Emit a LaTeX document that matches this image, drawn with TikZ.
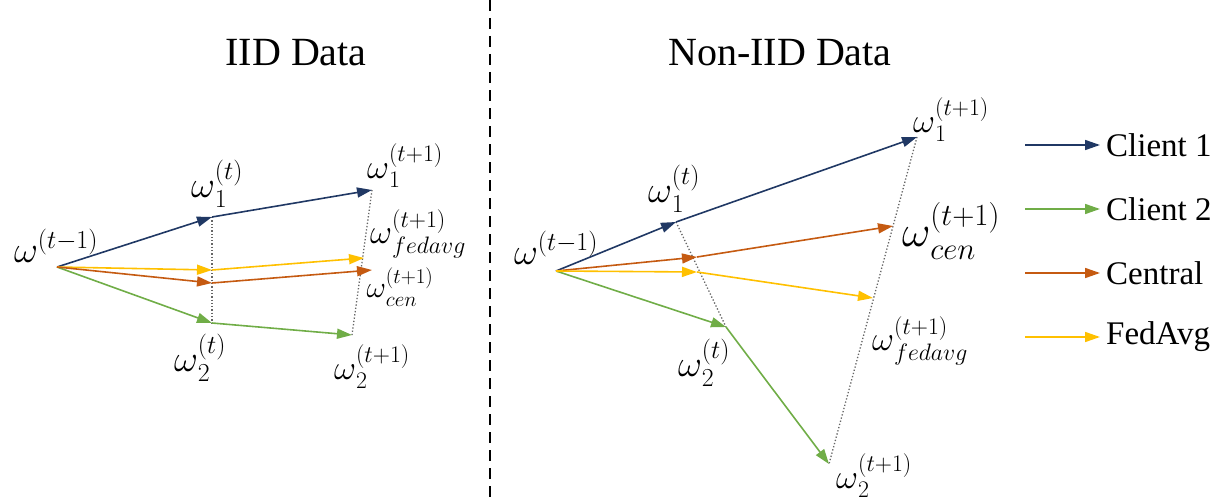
\RequirePackage{fix-cm}
\documentclass[tikz,border=0pt]{standalone}
\usepackage{fontspec}
\setmainfont{Liberation Serif}
\usetikzlibrary{arrows.meta}

\definecolor{navy}{HTML}{203864}
\definecolor{leaf}{HTML}{70AD47}
\definecolor{rust}{HTML}{C55A11}
\definecolor{amber}{HTML}{FFC000}

\newcommand{\wvec}[2]{{\omega\vphantom{\big|}}_{#1}^{#2}}

\begin{document}
\begin{tikzpicture}[x=1pt,y=-1pt]

                \tikzset{vec/.style = {line width=1.6pt,-{Triangle[length=15pt,width=10pt]}}}
                \tikzset{client1/.style = {vec,navy}}
                \tikzset{client2/.style = {vec,leaf}}
                \tikzset{central/.style = {vec,rust}}
                \tikzset{fedavg/.style = {vec,amber}}
                \tikzset{guide/.style = {gray!80!black,dotted,line width=1.3pt}}
                \tikzset{lbl/.style = {inner sep=0pt,font=\fontsize{34}{40}\selectfont}}
                \tikzset{big/.style = {font=\fontsize{37}{44}\selectfont}}
                \tikzset{title/.style = {font=\fontsize{40}{48}\selectfont}}
                \tikzset{key/.style = {anchor=west,inner sep=6pt,font=\fontsize{33}{40}\selectfont}}

                \useasboundingbox (0,0) rectangle (1229,503);

                % titles and divider
                \node[title] (tl) at (296, 53) {IID Data};
                \node[title] (tr) at (780, 53) {Non-IID Data};
                \coordinate (d0) at (490, 0);
                \coordinate (d1) at (490, 503);
                \draw[dash pattern=on 11pt off 7pt,line width=1.4pt] (d0) -- (d1);

                % IID
                \coordinate (o) at (57, 267);
                \coordinate (a1) at (212, 217);
                \coordinate (b1) at (372, 190);
                \coordinate (af) at (212, 270);
                \coordinate (bf) at (364, 258);
                \coordinate (ac) at (212, 283);
                \coordinate (bc) at (372, 270);
                \coordinate (a2) at (212, 323);
                \coordinate (b2) at (352, 335);

                \draw[guide] (a1) -- (a2);
                \draw[guide] (b1) -- (b2);

                \draw[client1] (o) -- (a1);
                \draw[client1] (a1) -- (b1);
                \draw[client2] (o) -- (a2);
                \draw[client2] (a2) -- (b2);
                \draw[fedavg] (o) -- (af);
                \draw[fedavg] (af) -- (bf);
                \draw[central] (o) -- (ac);
                \draw[central] (ac) -- (bc);

                \node[lbl,big] (lo) at (56, 246) {$\omega^{(t-1)}$};
                \node[lbl,big] (la1) at (217, 184) {$\wvec{1}{(t)}$};
                \node[lbl] (lb1) at (405, 166) {$\wvec{1}{(t+1)}$};
                \node[lbl] (lbf) at (418, 234) {$\wvec{fedavg}{(t+1)}$};
                \node[lbl,font=\fontsize{30}{36}\selectfont] (lbc) at (400, 287) {$\wvec{cen}{(t+1)}$};
                \node[lbl,big] (la2) at (200, 358) {$\wvec{2}{(t)}$};
                \node[lbl] (lb2) at (372, 367) {$\wvec{2}{(t+1)}$};

                % Non-IID
                \coordinate (p) at (556, 271);
                \coordinate (c1) at (676, 222);
                \coordinate (e1) at (917, 137);
                \coordinate (cc) at (697, 257);
                \coordinate (ec) at (893, 226);
                \coordinate (cf) at (697, 272);
                \coordinate (ef) at (873, 298);
                \coordinate (c2) at (726, 327);
                \coordinate (e2) at (829, 464);

                \draw[guide] (c1) -- (c2);
                \draw[guide] (e1) -- (e2);

                \draw[client1] (p) -- (c1);
                \draw[client1] (c1) -- (e1);
                \draw[client2] (p) -- (c2);
                \draw[client2] (c2) -- (e2);
                \draw[central] (p) -- (cc);
                \draw[central] (cc) -- (ec);
                \draw[fedavg] (p) -- (cf);
                \draw[fedavg] (cf) -- (ef);

                \node[lbl,big] (rp) at (556, 248) {$\omega^{(t-1)}$};
                \node[lbl,big] (rc1) at (674, 189) {$\wvec{1}{(t)}$};
                \node[lbl] (re1) at (951, 120) {$\wvec{1}{(t+1)}$};
                \node[lbl,font=\fontsize{44}{52}\selectfont] (rec) at (951, 231) {$\wvec{cen}{(t+1)}$};
                \node[lbl] (ref) at (920, 341) {$\wvec{fedavg}{(t+1)}$};
                \node[lbl,big] (rc2) at (704, 363) {$\wvec{2}{(t)}$};
                \node[lbl] (re2) at (874, 476) {$\wvec{2}{(t+1)}$};

                % legend
                \node[key] (k1) at (1100, 145) {Client 1};
                \node[key] (k2) at (1100, 209) {Client 2};
                \node[key] (k3) at (1100, 273) {Central};
                \node[key] (k4) at (1100, 337) {FedAvg};
                \coordinate (s1) at (1025, 145);
                \coordinate (s2) at (1025, 209);
                \coordinate (s3) at (1025, 273);
                \coordinate (s4) at (1025, 337);
                \draw[client1] (s1) -- (k1.west);
                \draw[client2] (s2) -- (k2.west);
                \draw[central] (s3) -- (k3.west);
                \draw[fedavg] (s4) -- (k4.west);
            \end{tikzpicture}
\end{document}
